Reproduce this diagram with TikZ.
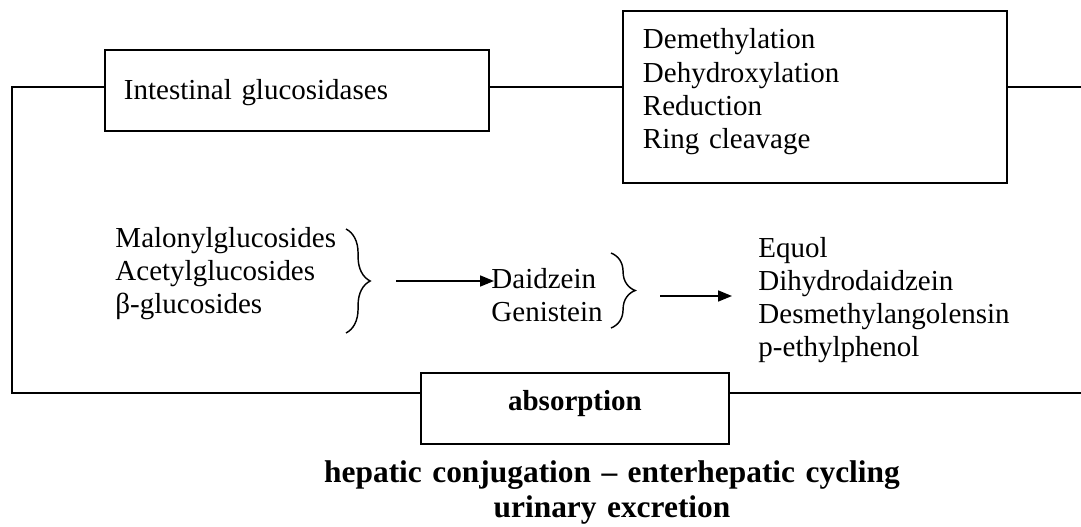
\documentclass[tikz,border=0pt]{standalone}
\usepackage{fontspec}
\setmainfont{Liberation Serif}
\usetikzlibrary{arrows.meta,decorations.pathreplacing}
\newcommand{\pxu}{0.414pt}

\begin{document}
\begin{tikzpicture}[x=\pxu,y=-\pxu,
    txt/.style={font=\fontsize{12pt}{13.7pt}\selectfont, inner sep=0pt, align=left},
    boldtxt/.style={txt, font=\fontsize{12pt}{13.7pt}\selectfont\bfseries},
    enzbox/.style={txt, draw, line width=0.8pt, inner xsep=20*\pxu},
    frame/.style={line width=0.8pt},
    curly/.style={decorate, decoration={brace, amplitude=10pt}, line width=0.6pt},
    conv/.style={-{Triangle[length=14*\pxu, width=11*\pxu]}, line width=0.7pt}]

    % Fix the page size
    \useasboundingbox (0,0) rectangle (1081,526);

    % Boxes
    \node[enzbox, anchor=north west, text width=346*\pxu, inner xsep=19*\pxu,
          text height=50*\pxu, text depth=31*\pxu] (glucbox) at (104,49) {Intestinal glucosidases};
    \node[enzbox, anchor=north west, text width=344*\pxu,
          text height=38*\pxu, text depth=134*\pxu] (metabbox) at (622,10)
          {Demethylation\\Dehydroxylation\\Reduction\\Ring cleavage};
    \node[enzbox, boldtxt, anchor=north west, text width=308*\pxu, inner xsep=0pt, align=center,
          text height=38*\pxu, text depth=33*\pxu] (absorbbox) at (420,372) {absorption};

    % Compound lists
    \node[txt, anchor=base west, text width=240*\pxu] (glycosides) at (115,247)
          {Malonylglucosides\\Acetylglucosides\\β-glucosides};
    \node[txt, anchor=base west, text width=110*\pxu] (aglycones) at (491,288) {Daidzein\\Genistein};
    \begin{scope}
        \clip (740,200) rectangle (1081,362);
        \node[txt, anchor=base west, text width=300*\pxu] (metabolites) at (758,257)
              {Equol\\Dihydrodaidzein\\Desmethylangolensin\\p-ethylphenol};
    \end{scope}

    % Braces and arrows
    \draw[curly] (346,229) -- (346,333);
    \draw[curly] (611,253) -- (611,328);
    \coordinate (tip1) at (396,281);
    \coordinate (tip2) at (660,296);
    \draw[conv] (tip1) -- ([xshift=3*\pxu]tip1 -| aglycones.west);
    \draw[conv] (tip2) -- ([xshift=-26*\pxu]tip2 -| metabolites.west);

    % Frame lines
    \coordinate (topline) at (0,87);
    \coordinate (botline) at (0,393);
    \coordinate (leftx) at (12,0);
    \coordinate (rightx) at (1081,0);
    \draw[frame] (glucbox.west |- topline) -| (leftx |- botline) -- (absorbbox.west |- botline);
    \draw[frame] (glucbox.east |- topline) -- (metabbox.west |- topline);
    \draw[frame] (metabbox.east |- topline) -- (rightx |- topline);
    \draw[frame] (absorbbox.east |- botline) -- (rightx |- botline);

    % Fate after absorption
    \node[txt, font=\fontsize{13pt}{14.5pt}\selectfont\bfseries, align=center, text width=700*\pxu,
          anchor=base] (fate) at (612,482)
          {hepatic conjugation – enterhepatic cycling\\urinary excretion};
\end{tikzpicture}
\end{document}
